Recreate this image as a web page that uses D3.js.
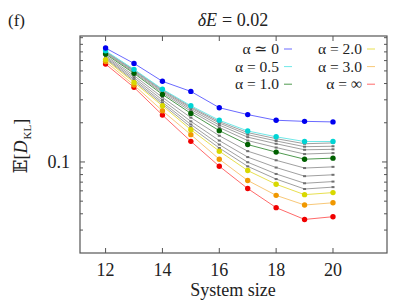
<!DOCTYPE html>
<html>
<head>
<meta charset="utf-8">
<script src="https://cdn.jsdelivr.net/npm/d3@7"></script>
<style>
body { margin: 0; background: #fff; }
</style>
</head>
<body>
<div class="mainviz"></div>
<script>
var sizes = [12, 13, 14, 15, 16, 17, 18, 19, 20];

// colored series
var alpha0   = [0.749, 0.571, 0.416, 0.348, 0.261, 0.231, 0.209, 0.205, 0.203];
var alpha05  = [0.713, 0.514, 0.362, 0.270, 0.209, 0.173, 0.156, 0.1435, 0.1435];
var alpha1   = [0.674, 0.479, 0.330, 0.236, 0.174, 0.136, 0.119, 0.105, 0.107];
var alpha2   = [0.611, 0.408, 0.270, 0.177, 0.121, 0.0859, 0.0674, 0.0561, 0.0582];
var alpha3   = [0.590, 0.389, 0.247, 0.162, 0.105, 0.0721, 0.0554, 0.0467, 0.0486];
var alphaInf = [0.564, 0.374, 0.229, 0.144, 0.0927, 0.0625, 0.0446, 0.0362, 0.0380];

// unlabelled grey series in between
var grey1 = [0.708, 0.509, 0.359, 0.265, 0.204, 0.168, 0.151, 0.138, 0.140];
var grey2 = [0.702, 0.504, 0.353, 0.260, 0.199, 0.162, 0.145, 0.131, 0.132];
var grey3 = [0.694, 0.498, 0.347, 0.253, 0.192, 0.155, 0.138, 0.124, 0.125];
var grey4 = [0.686, 0.489, 0.339, 0.245, 0.184, 0.146, 0.129, 0.115, 0.117];
var grey5 = [0.657, 0.460, 0.313, 0.219, 0.159, 0.121, 0.103, 0.0898, 0.0917];
var grey6 = [0.643, 0.444, 0.299, 0.205, 0.146, 0.109, 0.0906, 0.0778, 0.0797];
var grey7 = [0.631, 0.430, 0.287, 0.194, 0.136, 0.0995, 0.0809, 0.0686, 0.0707];
var grey8 = [0.621, 0.418, 0.278, 0.185, 0.128, 0.0925, 0.0739, 0.0620, 0.0641];

var xTicks = [12, 14, 16, 18, 20];
var yMajor = [0.1];
var yMinor = [0.03, 0.04, 0.05, 0.06, 0.07, 0.08, 0.09, 0.2, 0.3, 0.4, 0.5, 0.6, 0.7, 0.8, 0.9];

var legendLabels = ["α ≃ 0", "α = 0.5", "α = 1.0", "α = 2.0", "α = 3.0", "α = ∞"];

var colored = [
	{ vals: alpha0, line: "#6a6aff", dot: "#0000f0" },
	{ vals: alpha05, line: "#70e8e8", dot: "#00d4d4" },
	{ vals: alpha1, line: "#4f9a4f", dot: "#006000" },
	{ vals: alpha2, line: "#e8e050", dot: "#d8d800" },
	{ vals: alpha3, line: "#f8c878", dot: "#f09800" },
	{ vals: alphaInf, line: "#ff6a6a", dot: "#f00000" }
];
var greys = [grey1, grey2, grey3, grey4, grey5, grey6, grey7, grey8];

var width = 399, height = 303;
var plot = { left: 80, right: 387, top: 36, bottom: 253 };
var serif = "'Liberation Serif', 'Times New Roman', 'DejaVu Serif', serif";

var svg = d3.select(".mainviz").append("svg")
	.attr("width", width)
	.attr("height", height)
	.attr("font-family", serif)
	.style("font-family", serif);

var x = d3.scaleLinear()
	.domain([11.1, 21.9])
	.range([plot.left, plot.right]);

var y = d3.scaleLog()
	.domain([0.02, 0.927])
	.range([plot.bottom, plot.top]);

var line = d3.line()
	.x(function(d, i){ return x(sizes[i]); })
	.y(function(d){ return y(d); });

// ticks, inward on all four sides
var tickG = svg.append("g").attr("stroke", "#555").attr("stroke-width", 1);

xTicks.forEach(function(t){
	tickG.append("line").attr("x1", x(t)).attr("x2", x(t)).attr("y1", plot.bottom).attr("y2", plot.bottom - 5);
	tickG.append("line").attr("x1", x(t)).attr("x2", x(t)).attr("y1", plot.top).attr("y2", plot.top + 5);
});
yMajor.forEach(function(t){
	tickG.append("line").attr("x1", plot.left).attr("x2", plot.left + 5).attr("y1", y(t)).attr("y2", y(t));
	tickG.append("line").attr("x1", plot.right).attr("x2", plot.right - 5).attr("y1", y(t)).attr("y2", y(t));
});
yMinor.forEach(function(t){
	tickG.append("line").attr("x1", plot.left).attr("x2", plot.left + 3).attr("y1", y(t)).attr("y2", y(t));
	tickG.append("line").attr("x1", plot.right).attr("x2", plot.right - 3).attr("y1", y(t)).attr("y2", y(t));
});

// frame
svg.append("rect")
	.attr("x", plot.left).attr("y", plot.top)
	.attr("width", plot.right - plot.left).attr("height", plot.bottom - plot.top)
	.attr("fill", "none").attr("stroke", "#555").attr("stroke-width", 1.2);

// tick labels
svg.selectAll("text.xt")
	.data(xTicks)
	.enter().append("text")
	.attr("class", "xt")
	.attr("x", function(d){ return x(d); })
	.attr("y", 276)
	.attr("text-anchor", "middle")
	.attr("font-size", 18)
	.attr("fill", "#222")
	.text(function(d){ return d; });

svg.selectAll("text.yt")
	.data(yMajor)
	.enter().append("text")
	.attr("class", "yt")
	.attr("x", 70)
	.attr("y", function(d){ return y(d) + 6; })
	.attr("text-anchor", "end")
	.attr("font-size", 18)
	.attr("fill", "#222")
	.text("0.1");

// grey series
var greyG = svg.append("g");
greys.forEach(function(s){
	greyG.append("path")
		.attr("d", line(s))
		.attr("fill", "none")
		.attr("stroke", "#a0a0a0")
		.attr("stroke-width", 1);
	greyG.selectAll(null)
		.data(s)
		.enter().append("rect")
		.attr("x", function(d, i){ return x(sizes[i]) - 1.5; })
		.attr("y", function(d){ return y(d) - 1; })
		.attr("width", 3).attr("height", 2)
		.attr("fill", "#707070");
});

// colored series, red at the bottom
var colG = svg.append("g");
colored.slice().reverse().forEach(function(s){
	colG.append("path")
		.attr("d", line(s.vals))
		.attr("fill", "none")
		.attr("stroke", s.line)
		.attr("stroke-width", 1);
	colG.selectAll(null)
		.data(s.vals)
		.enter().append("circle")
		.attr("cx", function(d, i){ return x(sizes[i]); })
		.attr("cy", function(d){ return y(d); })
		.attr("r", 2.7)
		.attr("fill", s.dot);
});

// legend, two columns of three
var legend = svg.append("g");
legendLabels.forEach(function(lab, i){
	var col = Math.floor(i / 3), row = i % 3;
	var tx = col === 0 ? 279 : 362;
	var ty = 54 + row * 17.6;
	legend.append("text")
		.attr("x", tx).attr("y", ty)
		.attr("text-anchor", "end")
		.attr("font-size", 15.5)
		.attr("fill", "#222")
		.text(lab);
	legend.append("line")
		.attr("x1", tx + 5).attr("x2", tx + 13)
		.attr("y1", ty - 5).attr("y2", ty - 5)
		.attr("stroke", colored[i].line)
		.attr("stroke-width", 1);
});

// title: italic "δE" then upright "= 0.02", placed side by side
var tA = svg.append("text")
	.attr("y", 26)
	.attr("font-size", 18)
	.attr("font-style", "italic")
	.attr("fill", "#222")
	.text("δE");
var tB = svg.append("text")
	.attr("y", 26)
	.attr("font-size", 18)
	.attr("fill", "#222")
	.text("= 0.02");
var wA = tA.node().getComputedTextLength(), wB = tB.node().getComputedTextLength();
var tx0 = 233 - (wA + 5 + wB) / 2;
tA.attr("x", tx0);
tB.attr("x", tx0 + wA + 5);

svg.append("text")
	.attr("x", 8).attr("y", 26)
	.attr("font-size", 17)
	.attr("fill", "#222")
	.text("(f)");

svg.append("text")
	.attr("x", 233).attr("y", 296)
	.attr("text-anchor", "middle")
	.attr("font-size", 18)
	.attr("fill", "#222")
	.text("System size");

// y label: E[D_KL], rotated, built from separate pieces
var ylab = svg.append("g").attr("transform", "translate(27,146) rotate(-90)");
var p1 = ylab.append("text").attr("font-size", 18).attr("fill", "#222").text("𝔼[");
var p2 = ylab.append("text").attr("font-size", 18).attr("font-style", "italic").attr("fill", "#222").text("D");
var p3 = ylab.append("text").attr("font-size", 11).attr("fill", "#222").text("KL");
var p4 = ylab.append("text").attr("font-size", 18).attr("fill", "#222").text("]");
var w1 = p1.node().getComputedTextLength(), w2 = p2.node().getComputedTextLength(),
	w3 = p3.node().getComputedTextLength(), w4 = p4.node().getComputedTextLength();
var lx = -(w1 + w2 + w3 + w4 + 1) / 2;
p1.attr("x", lx).attr("y", 0);
p2.attr("x", lx + w1).attr("y", 0);
p3.attr("x", lx + w1 + w2 + 1).attr("y", 4);
p4.attr("x", lx + w1 + w2 + w3 + 1).attr("y", 0);
</script>
</body>
</html>
